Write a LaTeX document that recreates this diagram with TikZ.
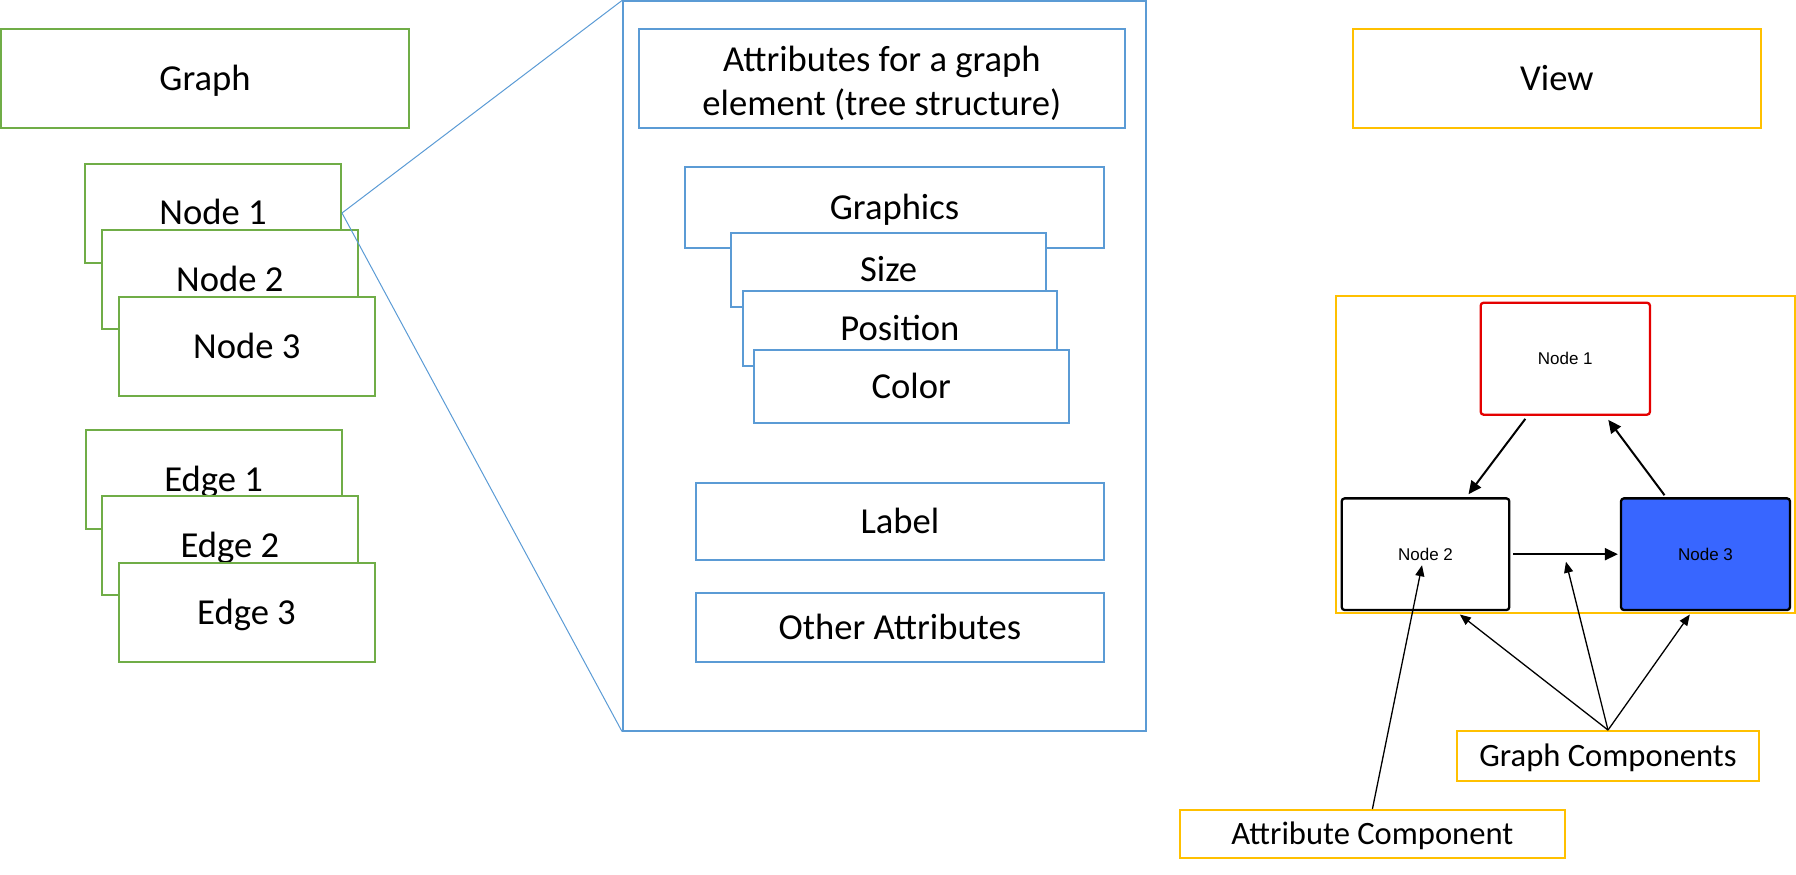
\documentclass[tikz,border=0pt]{standalone}
\usepackage{fontspec}
\setmainfont{Carlito}
\newfontfamily\arialf{Liberation Sans}
\usetikzlibrary{arrows.meta,calc}
\definecolor{offgreen}{HTML}{70AD47}
\definecolor{offblue}{HTML}{5B9BD5}
\definecolor{offgold}{HTML}{FFC000}
\definecolor{nodeblue}{RGB}{56,102,255}
\definecolor{nodered}{RGB}{228,0,0}
\begin{document}
\begin{tikzpicture}[x=1pt,y=-1pt,
  boxbase/.style={draw, fill=white, line width=2pt, inner sep=0pt, font=\fontsize{36.6}{44.6}\selectfont},
  box/.style={boxbase, text height=23.6pt, text depth=0pt},
  gbox/.style={box, draw=offgreen, minimum width=256pt, minimum height=99pt},
  bbox/.style={box, draw=offblue},
  ybox/.style={draw=offgold, fill=white, line width=2pt, inner sep=0pt, font=\fontsize{32.6}{39}\selectfont, text height=21pt, text depth=0pt},
  vnode/.style={draw, line width=2.3pt, rounded corners=3pt, minimum width=168pt, minimum height=111.7pt, inner sep=0pt, font=\arialf\fontsize{17}{20}\selectfont},
  thickarrow/.style={line width=2pt, -{Triangle[length=13pt,width=12pt]}},
  thinarrow/.style={line width=1.3pt, -{Triangle[length=11pt,width=9pt]}},
  zoomline/.style={draw=offblue, line width=1pt}
]
\useasboundingbox (0,0) rectangle (1796,875);
% left column
\node[gbox, minimum width=408pt, minimum height=98.5pt] (graph) at (205,78.7) {Graph};
\node[gbox] (n1) at (213,213) {Node 1};
\node[gbox] (n2) at (229.8,279.3) {Node 2};
\node[gbox] (n3) at (246.7,346.3) {Node 3};
\node[gbox] (e1) at (213.6,479.5) {Edge 1};
\node[gbox] (e2) at (229.8,545.7) {Edge 2};
\node[gbox] (e3) at (246.5,612.4) {Edge 3};
% middle
\node[bbox, minimum width=523.4pt, minimum height=729pt] (big) at (884.7,366) {};
\node[bbox, minimum width=486.4pt, minimum height=99pt] (attr) at (881.8,78.9) {};
\node[font=\fontsize{36.6}{44.6}\selectfont, align=center, inner sep=0pt] (attrtext) at (881.8,83.4) {Attributes for a graph\\element (tree structure)};
\node[bbox, minimum width=419.7pt, minimum height=80.8pt] (gfx) at (894.5,207.4) {Graphics};
\node[bbox, minimum width=315.7pt, minimum height=73.6pt] (size) at (888.6,269.9) {Size};
\node[bbox, minimum width=313.9pt, minimum height=74.5pt] (pos) at (899.9,328.5) {Position};
\node[bbox, minimum width=315.4pt, minimum height=73.1pt] (color) at (911.3,386.8) {Color};
\node[bbox, minimum width=408.3pt, minimum height=77pt] (label) at (899.9,521.7) {Label};
\node[bbox, minimum width=408.3pt, minimum height=68.4pt] (other) at (899.9,627.4) {Other Attributes};
% zoom lines
\draw[zoomline] (n1.east) -- (big.north west);
\draw[zoomline] (n1.east) -- (big.south west);
% right
\node[box, draw=offgold, minimum width=408.3pt, minimum height=98.7pt] (view) at (1556.9,78.4) {View};
\node[draw=offgold, line width=2pt, minimum width=459.3pt, minimum height=317pt, inner sep=0pt] (vbox) at (1565.35,454.2) {};
\node[vnode, draw=nodered, fill=white, minimum width=169.3pt, minimum height=112pt] (gn1) at (1565.3,358.7) {Node 1};
\node[vnode, fill=white, minimum width=167.6pt] (gn2) at (1425.5,554.2) {Node 2};
\node[vnode, fill=nodeblue, minimum width=169pt] (gn3) at (1705.5,554.2) {Node 3};
\draw[thickarrow] ([xshift=-40pt,yshift=-3pt]gn1.south) -- ([xshift=43pt,yshift=3pt]gn2.north);
\draw[thickarrow] ([xshift=-41pt,yshift=2pt]gn3.north) -- ([xshift=43pt,yshift=-4pt]gn1.south);
\draw[thickarrow] ([xshift=3pt]gn2.east) -- ([xshift=-2pt]gn3.west);
\node[ybox, minimum width=302pt, minimum height=49.7pt] (gc) at (1608,755.9) {Graph Components};
\node[ybox, minimum width=385.3pt, minimum height=48.3pt] (ac) at (1372.4,834.2) {Attribute Component};
\draw[thinarrow] (gc.north) -- ([xshift=34.3pt,yshift=-3.3pt]gn2.south);
\draw[thinarrow] (gc.north) -- ($(gn2.east)!0.5!(gn3.west)+(0.8pt,-7.5pt)$);
\draw[thinarrow] (gc.north) -- ([xshift=-15.7pt,yshift=-3.3pt]gn3.south);
\draw[thinarrow] (ac.north) -- ([xshift=-3.5pt,yshift=-11pt]gn2.center);
\end{tikzpicture}
\end{document}
